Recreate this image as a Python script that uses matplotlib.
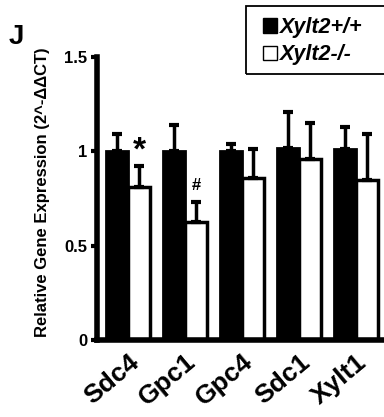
import matplotlib
matplotlib.use("Agg")
import matplotlib.pyplot as plt
import matplotlib.transforms as mtransforms
from matplotlib.patches import Patch, Rectangle
import numpy as np

genes = ["Sdc4", "Gpc1", "Gpc4", "Sdc1", "Xylt1"]
wt_mean = [1.00, 1.00, 1.00, 1.02, 1.01]
wt_err = [0.09, 0.14, 0.04, 0.19, 0.12]
ko_mean = [0.81, 0.625, 0.86, 0.96, 0.85]
ko_err = [0.11, 0.105, 0.15, 0.19, 0.24]
series_labels = ["Xylt2+/+", "Xylt2-/-"]
yticks = [0, 0.5, 1, 1.5]
ytick_labels = ["0", "0.5", "1", "1.5"]
marks = {0: "*", 1: "#"}

plt.rcParams['font.family'] = ['Liberation Sans', 'DejaVu Sans']

fig = plt.figure(figsize=(3.84, 4.17), dpi=100)
ax = fig.add_axes([97/384, 1-340/417, 293/384, (340-57)/417])

x = np.arange(len(genes))
w = 0.386
ax.bar(x - w/2, wt_mean, w, color='black', edgecolor='black', linewidth=2, zorder=2)
ax.bar(x + w/2, ko_mean, w, color='white', edgecolor='black', linewidth=2.5, zorder=2)
for xs, m, e in [(x - w/2, wt_mean, wt_err), (x + w/2, ko_mean, ko_err)]:
    ax.errorbar(xs, m, yerr=[np.zeros(len(e)), e], fmt='none', ecolor='black',
                elinewidth=2.5, capsize=3.5, capthick=3, zorder=3)

for i, s in marks.items():
    if s == "*":
        ax.text(x[i] + w/2, ko_mean[i] + ko_err[i] + 0.0, s, ha='center', va='bottom',
                fontsize=24, fontweight='bold')
    else:
        ax.text(x[i] + w/2, ko_mean[i] + ko_err[i] + 0.05, s, ha='center', va='bottom',
                fontsize=12, fontweight='bold')

ax.set_xlim(-0.544, 4.6)
ax.set_ylim(0, 1.5)
ax.set_yticks(yticks)
ax.set_yticklabels(ytick_labels, fontsize=12, fontweight='bold')
ax.set_xticks(x)
ax.set_xticklabels(genes, rotation=40, ha='right', rotation_mode='anchor',
                   fontsize=19, fontweight='bold')
offset = mtransforms.ScaledTranslation(8/100, 0, fig.dpi_scale_trans)
for lbl in ax.get_xticklabels():
    lbl.set_transform(lbl.get_transform() + offset)
ax.tick_params(axis='x', length=0, pad=7)
ax.tick_params(axis='y', length=4, width=3, direction='out', pad=3)
for s in ['top', 'right']:
    ax.spines[s].set_visible(False)
ax.spines['left'].set_linewidth(4)
ax.spines['bottom'].set_linewidth(4)

fig.text(43/384, 1-192/417, "Relative Gene Expression (2^-ΔΔCT)", fontsize=12,
         fontweight='bold', rotation=90, ha='center', va='center')

fig.text(9/384, 1-44/417, "J", fontsize=20, fontweight='bold', ha='left', va='baseline')

handles = [Patch(facecolor='black', edgecolor='black'),
           Patch(facecolor='white', edgecolor='black', linewidth=1)]
leg = fig.legend(handles, series_labels, loc='upper left', bbox_to_anchor=(263/384, 1-17/417),
                 prop={'size': 15.5, 'weight': 'bold', 'style': 'italic'}, frameon=False,
                 handlelength=0.65, handleheight=0.65, handletextpad=0.15,
                 borderpad=0, labelspacing=0.3, borderaxespad=0)
fig.patches.append(Rectangle((246/384, 1-74/417), 0.4, 68/417, transform=fig.transFigure,
                             fill=False, edgecolor='black', linewidth=1.3))

fig.savefig("out.png", dpi=100)
